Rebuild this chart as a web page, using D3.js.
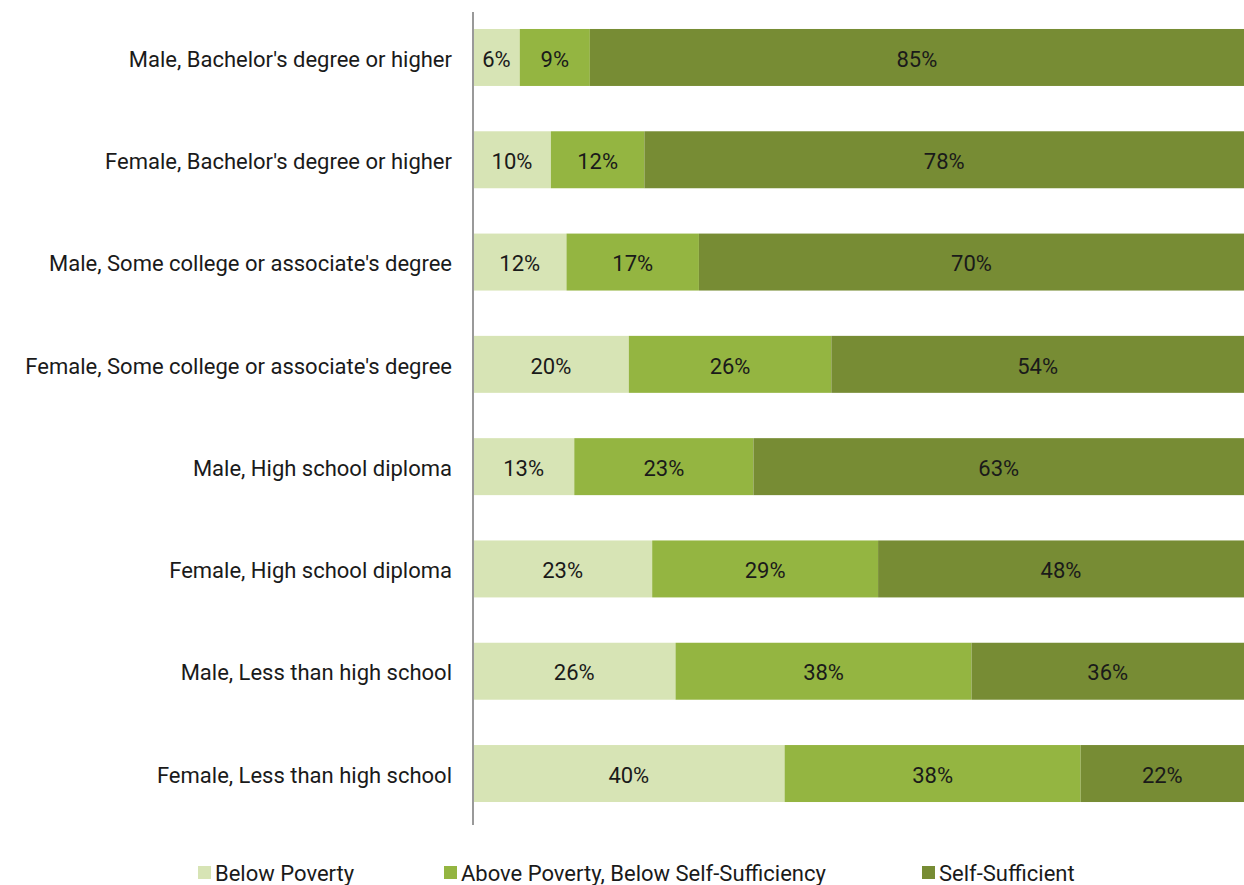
<!DOCTYPE html>
<html>
<head>
<meta charset="utf-8">
<script src="https://cdn.jsdelivr.net/npm/d3@7"></script>
<style>
  body { margin: 0; background: #fff; }
  svg { display: block; }
  svg text { font-family: Roboto, "Liberation Sans", sans-serif; }
</style>
</head>
<body>
<div id="chart"></div>
<script>
// categories, top to bottom
var categories = [
  "Male, Bachelor's degree or higher",
  "Female, Bachelor's degree or higher",
  "Male, Some college or associate's degree",
  "Female, Some college or associate's degree",
  "Male, High school diploma",
  "Female, High school diploma",
  "Male, Less than high school",
  "Female, Less than high school"
];
var seriesNames = ['Below Poverty', 'Above Poverty, Below Self-Sufficiency', 'Self-Sufficient'];
var belowPoverty = [6, 10, 12, 20, 13, 23, 26, 40];
var abovePoverty = [9, 12, 17, 26, 23, 29, 38, 38];
var selfSufficient = [85, 78, 70, 54, 63, 48, 36, 22];
var colors = ['#d7e4b5', '#94b541', '#778c34'];

var width = 1244, height = 885;
var margin = { left: 473, top: 12 };
var fontSize = 22;

var rows = categories.map(function (c, i) {
  return { cat: c, vals: [belowPoverty[i], abovePoverty[i], selfSufficient[i]] };
});

var svg = d3.select('#chart').append('svg')
  .attr('width', width)
  .attr('height', height);

var x = d3.scaleLinear().domain([0, 100]).range([margin.left, 1252]);
var y = d3.scaleBand().domain(categories)
  .range([margin.top, 819])
  .paddingInner(0.443).paddingOuter(0.166);

var stack = d3.stack()
  .keys([0, 1, 2])
  .value(function (d, k) { return d.vals[k]; });
var layers = stack(rows);

var g = svg.append('g');
layers.forEach(function (layer, k) {
  var grp = g.append('g');
  grp.selectAll('rect')
    .data(layer)
    .enter().append('rect')
    .attr('x', function (d) { return x(d[0]); })
    .attr('y', function (d) { return y(d.data.cat); })
    .attr('width', function (d) { return x(d[1]) - x(d[0]); })
    .attr('height', y.bandwidth())
    .attr('fill', colors[k]);
  grp.selectAll('text')
    .data(layer)
    .enter().append('text')
    .attr('x', function (d) { return (x(d[0]) + Math.min(x(d[1]), width)) / 2; })
    .attr('y', function (d) { return y(d.data.cat) + y.bandwidth() / 2; })
    .attr('dy', '0.42em')
    .attr('text-anchor', 'middle')
    .attr('font-size', fontSize)
    .attr('fill', '#1a1a1a')
    .text(function (d) { return (d[1] - d[0]) + '%'; });
});

// category axis
var yAxis = svg.append('g')
  .attr('transform', 'translate(' + margin.left + ',0)')
  .call(d3.axisLeft(y).tickSize(0).tickPadding(21));
yAxis.attr('font-family', null);
yAxis.select('.domain').attr('stroke', '#999').attr('stroke-width', 2)
  .attr('d', 'M0,' + margin.top + 'V825');
yAxis.selectAll('text').attr('font-size', fontSize).attr('fill', '#1a1a1a')
  .attr('dy', '0.42em');

// legend
var legendX = [198, 444, 922];
var legend = svg.append('g');
seriesNames.forEach(function (name, k) {
  legend.append('rect')
    .attr('x', legendX[k]).attr('y', 866)
    .attr('width', 13).attr('height', 13)
    .attr('fill', colors[k]);
  legend.append('text')
    .attr('x', legendX[k] + 17).attr('y', 881)
    .attr('font-size', fontSize).attr('fill', '#1a1a1a')
    .text(name);
});
</script>
</body>
</html>
